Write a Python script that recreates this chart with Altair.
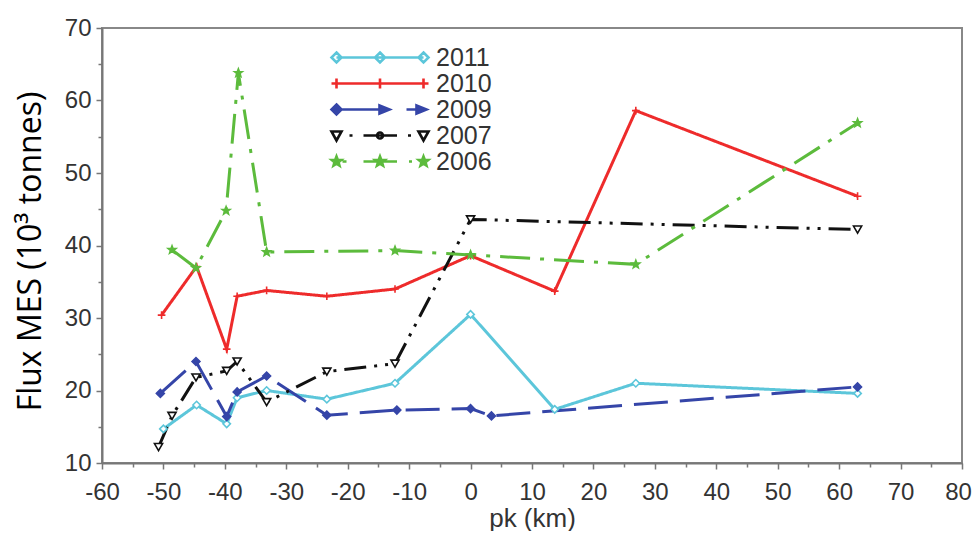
import math
import altair as alt
import pandas as pd

years = ["2011", "2010", "2009", "2007", "2006"]

pk_2011 = [-50.0, -44.6, -39.7, -38.0, -33.2, -23.4, -12.3, 0.0, 13.7, 26.9, 63.0]
flux_2011 = [14.7, 18.0, 15.4, 19.0, 20.0, 18.8, 21.0, 30.5, 17.4, 21.0, 19.6]

pk_2010 = [-50.3, -44.6, -39.7, -38.0, -33.2, -23.4, -12.3, 0.0, 13.7, 26.9, 63.0]
flux_2010 = [30.4, 37.1, 25.7, 33.0, 33.8, 33.0, 34.0, 38.6, 33.7, 58.6, 46.8]

pk_2009 = [-50.5, -44.7, -39.7, -38.0, -33.2, -23.4, -12.0, 0.0, 3.4, 63.0]
flux_2009 = [19.6, 24.0, 16.4, 19.8, 22.0, 16.6, 17.3, 17.5, 16.5, 20.5]

pk_2007 = [-50.8, -48.6, -44.7, -39.7, -38.0, -33.2, -23.4, -12.3, 0.0, 63.0]
flux_2007 = [12.2, 16.5, 21.8, 22.7, 24.0, 18.4, 22.6, 23.7, 43.6, 42.2]

pk_2006 = [-48.6, -44.7, -39.8, -37.8, -33.2, -12.3, 0.0, 26.9, 63.0]
flux_2006 = [39.4, 36.9, 44.8, 63.8, 39.1, 39.3, 38.7, 37.4, 56.9]

series = {
    "2011": (pk_2011, flux_2011),
    "2010": (pk_2010, flux_2010),
    "2009": (pk_2009, flux_2009),
    "2007": (pk_2007, flux_2007),
    "2006": (pk_2006, flux_2006),
}

rows = []
for yr, (xs, ys) in series.items():
    for x, y in zip(xs, ys):
        rows.append({"year": yr, "pk": x, "flux": y})
df = pd.DataFrame(rows)

# ---- styles ----
colors = ["#5CC6DA", "#EE2B2B", "#3545A8", "#111111", "#5CBB3C"]
fills = ["white", "#EE2B2B", "#3545A8", "white", "#5CBB3C"]
dashes = [[1, 0], [1, 0], [34, 12], [22, 8, 3, 8, 3, 8], [30, 10, 4, 10]]
widths = [3, 3, 4, 3.5, 3.5]


def star(cx, r=1.0, ri=0.42):
    pts = []
    for i in range(10):
        ang = -math.pi / 2 + i * math.pi / 5
        rr = r if i % 2 == 0 else ri
        pts.append((cx + rr * math.cos(ang), rr * math.sin(ang)))
    return "M" + "L".join(f"{x:.3f},{y:.3f}" for x, y in pts) + "Z"


def seg(a, b):
    return f"M{a:.2f},0H{b:.2f}"


def diamond(cx, h=1.0):
    return f"M{cx:.2f},{-h}L{cx + h:.2f},0L{cx:.2f},{h}L{cx - h:.2f},0Z"


def tri_down(cx, h=1.0):
    return f"M{cx - h:.2f},{-0.8 * h}L{cx + h:.2f},{-0.8 * h}L{cx:.2f},{h}Z"


def plus(cx, h=1.0):
    return f"M{cx - h:.2f},0H{cx + h:.2f}M{cx:.2f},{-h}V{h}"


def arrow(cx, h=1.0):
    return f"M{cx - h:.2f},{-0.8 * h}L{cx + h:.2f},0L{cx - h:.2f},{0.8 * h}Z"


def dot(cx):
    return f"M{cx - 0.3:.2f},0H{cx + 0.3:.2f}"


def ring(cx, r=0.6):
    return f"M{cx - r:.2f},0A{r},{r} 0 1,0 {cx + r:.2f},0A{r},{r} 0 1,0 {cx - r:.2f},0Z"


point_shapes = ["diamond", "M-1,0H1M0,-1V1", "diamond", "triangle-down", star(0)]
point_sizes = [55, 70, 60, 50, 95]

L0, LM, L1 = -17.4, -8.7, 0.0
legend_shapes = [
    seg(L0, L1) + diamond(L0) + diamond(LM) + diamond(L1),
    seg(L0, L1) + plus(L0) + plus(LM) + plus(L1),
    seg(L0, -7.2) + diamond(L0) + arrow(-7.8) + seg(-3.4, -0.5) + arrow(-0.4),
    tri_down(L0) + dot(-14.5) + seg(-12.0, -5.3) + ring(LM) + dot(-2.8) + tri_down(L1),
    star(L0) + seg(-16.2, -15.4) + seg(-12.0, -5.3) + star(LM) + dot(-2.6) + star(L1),
]

tick_cond = {"condition": {"test": "datum.value % 10 === 0", "value": 6}, "value": 4}
label_expr = "datum.value % 10 === 0 ? '' + datum.value : ''"

x_enc = alt.X(
    "pk:Q",
    scale=alt.Scale(domain=[-60, 80], nice=False),
    axis=alt.Axis(
        title="pk (km)",
        values=list(range(-60, 85, 5)),
        labelExpr=label_expr,
        tickSize=tick_cond,
        labelOverlap=False,
        labelFlush=False,
        labelPadding=11,
        labelOffset={"condition": {"test": "datum.value === 80", "value": -4}, "value": 0},
        titleFontSize=26,
        titleY=55,
        titleBaseline="middle",
    ),
)
y_enc = alt.Y(
    "flux:Q",
    scale=alt.Scale(domain=[10, 70], nice=False),
    axis=alt.Axis(
        title="Flux MES (10³ tonnes)",
        values=list(range(10, 75, 5)),
        labelExpr=label_expr,
        tickSize=tick_cond,
        labelOverlap=False,
        labelFlush=False,
        labelPadding=5,
        titleFont="Open Sans",
        titleFontSize=32,
        titleColor="#000000",
        titleX=-72,
        titleY=223,
        titleBaseline="middle",
        titleAnchor="middle",
    ),
)

base = alt.Chart(df)

lines = base.mark_line().encode(
    x=x_enc,
    y=y_enc,
    color=alt.Color("year:N", scale=alt.Scale(domain=years, range=colors), legend=None),
    strokeDash=alt.StrokeDash("year:N", scale=alt.Scale(domain=years, range=dashes), legend=None),
    strokeWidth=alt.StrokeWidth("year:N", scale=alt.Scale(domain=years, range=widths), legend=None),
    detail="year:N",
)

points = base.mark_point(strokeWidth=1.6, opacity=1).encode(
    x=x_enc,
    y=y_enc,
    color=alt.Color("year:N", scale=alt.Scale(domain=years, range=colors), legend=None),
    fill=alt.Fill("year:N", scale=alt.Scale(domain=years, range=fills), legend=None),
    shape=alt.Shape("year:N", scale=alt.Scale(domain=years, range=point_shapes), legend=None),
    size=alt.Size("year:N", scale=alt.Scale(domain=years, range=point_sizes), legend=None),
)

leg = alt.Legend(
    title=None,
    orient="none",
    legendX=309,
    legendY=17,
    symbolSize=100,
    symbolStrokeWidth=2.6,
    symbolOpacity=1,
    labelFont="Liberation Sans",
    labelFontSize=25,
    labelColor="#333333",
    labelOffset=0,
    rowPadding=0,
    padding=0,
)

legend_layer = base.transform_filter("false").mark_point(opacity=1).encode(
    x=x_enc,
    y=y_enc,
    shape=alt.Shape("year:N", scale=alt.Scale(domain=years, range=legend_shapes), legend=leg),
    stroke=alt.Stroke("year:N", scale=alt.Scale(domain=years, range=colors), legend=leg),
    fill=alt.Fill("year:N", scale=alt.Scale(domain=years, range=fills), legend=leg),
)

chart = (
    alt.layer(lines, points, legend_layer)
    .resolve_scale(shape="independent", fill="independent", size="independent", stroke="independent")
    .properties(
        width=860,
        height=435,
        padding={"left": 94, "top": 20, "right": 10, "bottom": 68},
        autosize=alt.AutoSizeParams(type="none"),
    )
    .configure_view(stroke="#888888", strokeWidth=2)
    .configure_axis(
        grid=False,
        domainColor="#777777",
        domainWidth=2,
        tickColor="#777777",
        tickWidth=1.5,
        labelFont="Liberation Sans",
        labelFontSize=24,
        labelColor="#333333",
        titleFont="Liberation Sans",
        titleColor="#333333",
        titleFontWeight="normal",
    )
)

chart.save("out.html", embed_options={"renderer": "svg", "actions": False})
